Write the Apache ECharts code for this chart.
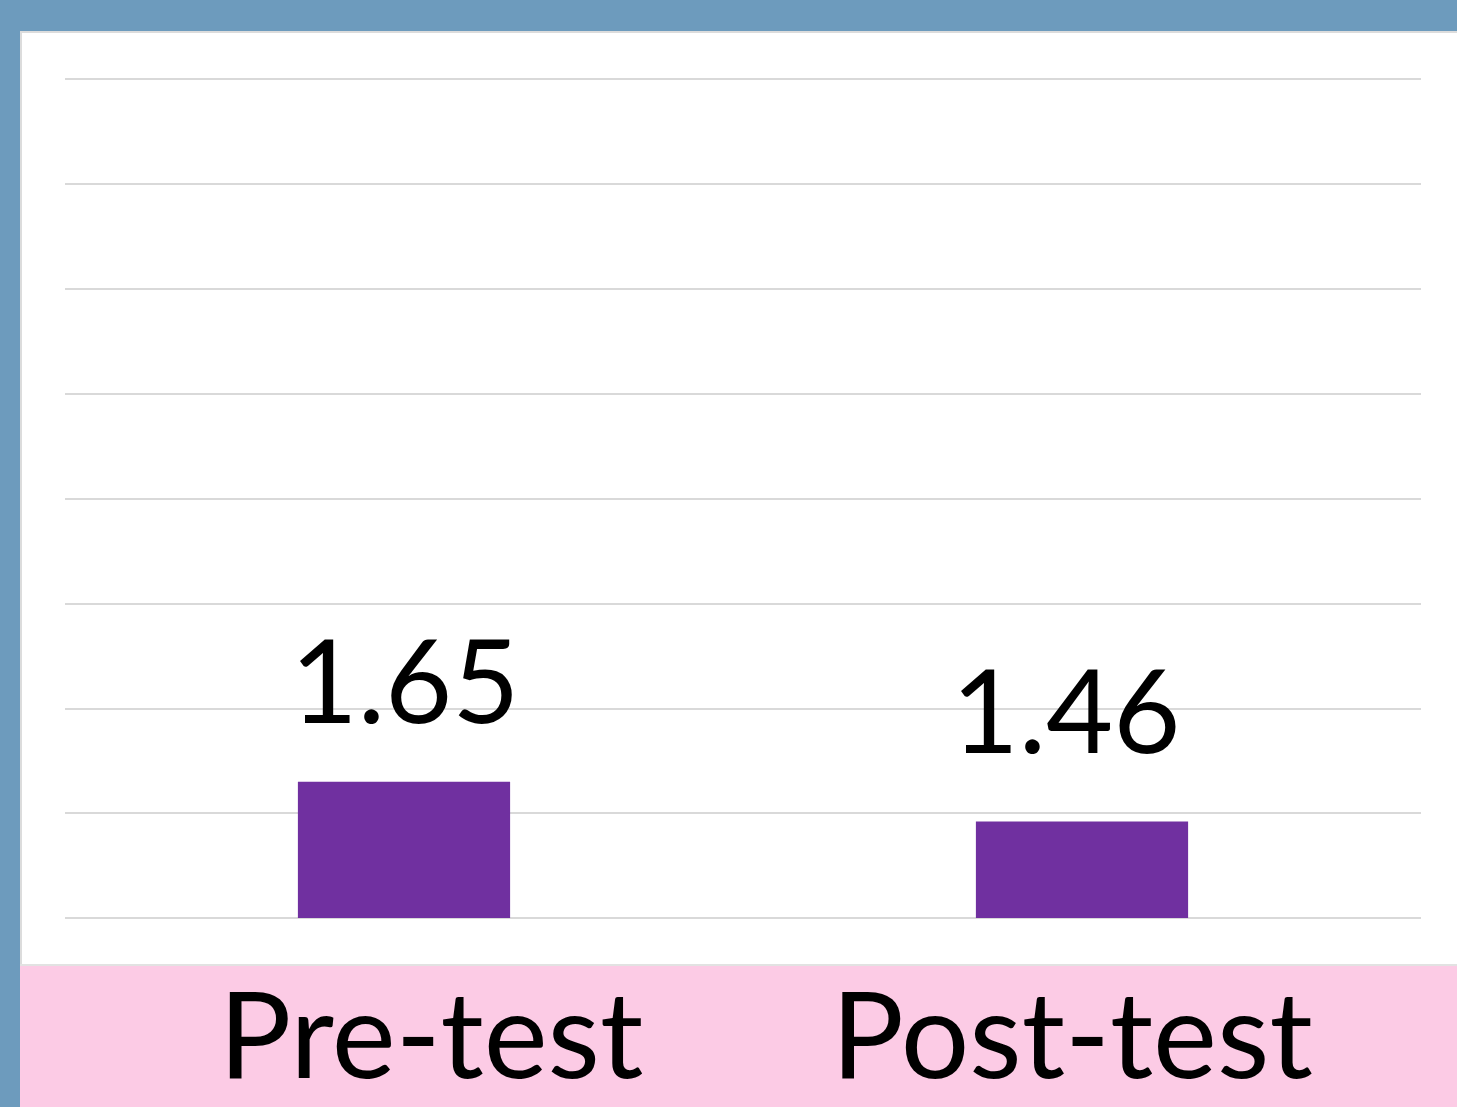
<!DOCTYPE html>
<html>
<head>
<meta charset="utf-8">
<script src="https://cdn.jsdelivr.net/npm/echarts@6/dist/echarts.min.js"></script>
<style>
  html, body { margin: 0; padding: 0; background: #ffffff; }
  #chart { width: 1457px; height: 1107px; }
</style>
</head>
<body>
<div id="chart"></div>
<script>
// 数据
var categories = ['Pre-test', 'Post-test'];
var scores = [1.65, 1.46];

// 坐标轴刻度
var axisMin = 1;
var axisMax = 5;
var axisStep = 0.5;

// 标签微调（原图标签并不完全居中）
var labelGap = [38, 48];
var labelShift = [1, -16];
var catPadding = [[0, 0, 0, 54], [0, 20, 0, 0]];

var myChart = echarts.init(document.getElementById('chart'));

var barData = [];
var catData = [];
for (var i = 0; i < scores.length; i++) {
    barData.push({
        value: scores[i],
        label: { distance: labelGap[i], offset: [labelShift[i], 0] }
    });
    catData.push({
        value: categories[i],
        textStyle: { padding: catPadding[i] }
    });
}

var option = {
    backgroundColor: '#ffffff',
    animation: false,
    grid: {
        left: 65,
        right: 36,
        top: 79,
        bottom: 189
    },
    graphic: [
        // 蓝色边框
        { type: 'rect', z: -10, shape: { x: 0, y: 0, width: 1457, height: 31 }, style: { fill: '#6d9bbd' } },
        { type: 'rect', z: -10, shape: { x: 0, y: 0, width: 20, height: 1107 }, style: { fill: '#6d9bbd' } },
        { type: 'rect', z: -10, shape: { x: 20, y: 31, width: 1437, height: 2 }, style: { fill: '#dcdcdc' } },
        { type: 'rect', z: -10, shape: { x: 20, y: 31, width: 2, height: 935 }, style: { fill: '#dcdcdc' } },
        // 粉色标签区
        { type: 'rect', z: -10, shape: { x: 20, y: 964, width: 1437, height: 2 }, style: { fill: '#e2e2e2' } },
        { type: 'rect', z: -10, shape: { x: 20, y: 966, width: 1437, height: 141 }, style: { fill: '#fccbe5' } }
    ],
    xAxis: {
        type: 'category',
        data: catData,
        axisLine: { show: false },
        axisTick: { show: false },
        axisLabel: {
            margin: 60,
            color: '#000000',
            fontFamily: 'Lato',
            fontSize: 121
        }
    },
    yAxis: {
        type: 'value',
        min: axisMin,
        max: axisMax,
        interval: axisStep,
        axisLabel: { show: false },
        axisLine: { show: false },
        axisTick: { show: false },
        splitLine: {
            lineStyle: { color: '#d9d9d9', width: 2 }
        }
    },
    series: [
        {
            type: 'bar',
            data: barData,
            barWidth: '31.3%',
            itemStyle: { color: '#7030a0' },
            label: {
                show: true,
                position: 'top',
                color: '#000000',
                fontFamily: 'Lato',
                fontSize: 116
            }
        }
    ]
};
myChart.setOption(option);
</script>
</body>
</html>
